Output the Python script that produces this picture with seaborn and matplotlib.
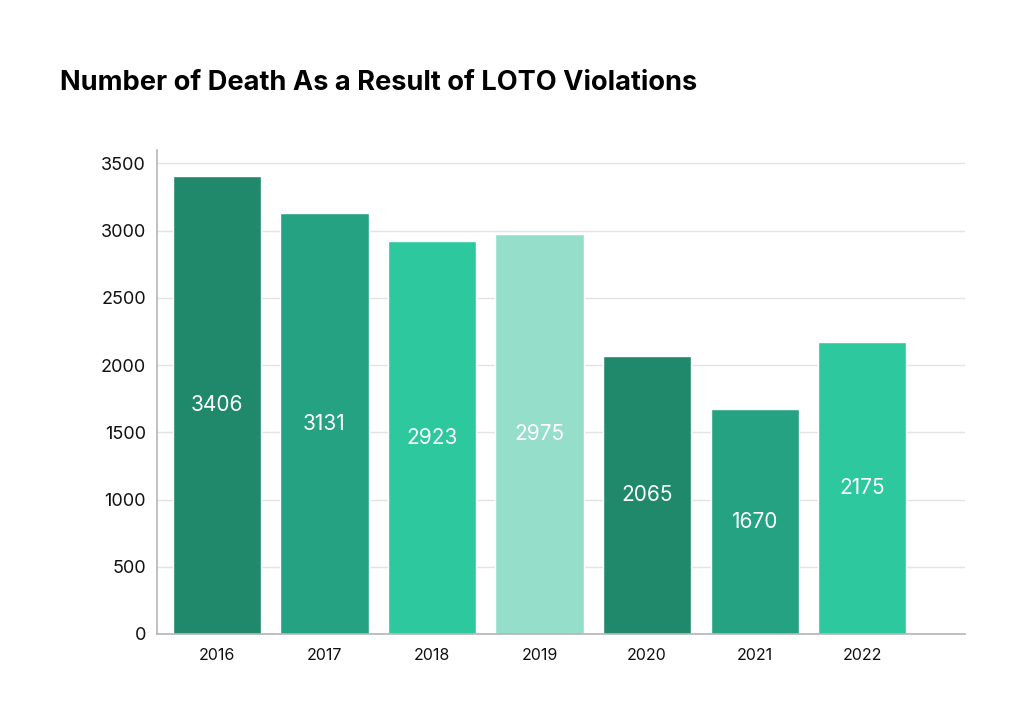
import matplotlib
matplotlib.use("Agg")
import matplotlib.pyplot as plt
import seaborn as sns
import pandas as pd

years = ["2016", "2017", "2018", "2019", "2020", "2021", "2022"]
deaths = [3406, 3131, 2923, 2975, 2065, 1670, 2175]
bar_colors = ["#21896B", "#25A282", "#2DC89D", "#95DFCA", "#21896B", "#25A282", "#2DC89D"]
y_ticks = [0, 500, 1000, 1500, 2000, 2500, 3000, 3500]
title = "Number of Death As a Result of LOTO Violations"

df = pd.DataFrame({"year": years, "deaths": deaths})

sns.set_theme(style="white")
plt.rcParams["font.family"] = ["Inter", "DejaVu Sans"]

fig = plt.figure(figsize=(10.24, 7.28), dpi=100)
ax = fig.add_axes([157 / 1024, 1 - 634 / 728, (965 - 157) / 1024, (634 - 150) / 728])

sns.barplot(data=df, x="year", y="deaths", hue="year", palette=bar_colors,
            legend=False, width=0.82, saturation=1, ax=ax, zorder=2)

ax.set_xlim(-0.557, 6.956)
ax.set_ylim(0, 3600)
ax.set_yticks(y_ticks)
ax.set_yticklabels([str(t) for t in y_ticks])
ax.grid(axis="y", color="#E3E3E3", linewidth=1, zorder=0)
ax.set_axisbelow(True)
for s in ["top", "right"]:
    ax.spines[s].set_visible(False)
for s in ["left", "bottom"]:
    ax.spines[s].set_color("#B5B5B5")
    ax.spines[s].set_linewidth(1.2)
ax.tick_params(axis="y", length=0, pad=8, labelsize=13, labelcolor="#111111")
ax.tick_params(axis="x", length=0, pad=10, labelsize=11.5, labelcolor="#111111")
ax.set_xlabel("")
ax.set_ylabel("")

for i, v in enumerate(deaths):
    ax.text(i, v / 2, str(v), ha="center", va="center", color="white", fontsize=15)

fig.text(60 / 1024, 1 - 83 / 728, title, ha="left", va="center",
         fontsize=19.6, fontweight="bold", color="#000000")

fig.savefig("out.png", dpi=100)
